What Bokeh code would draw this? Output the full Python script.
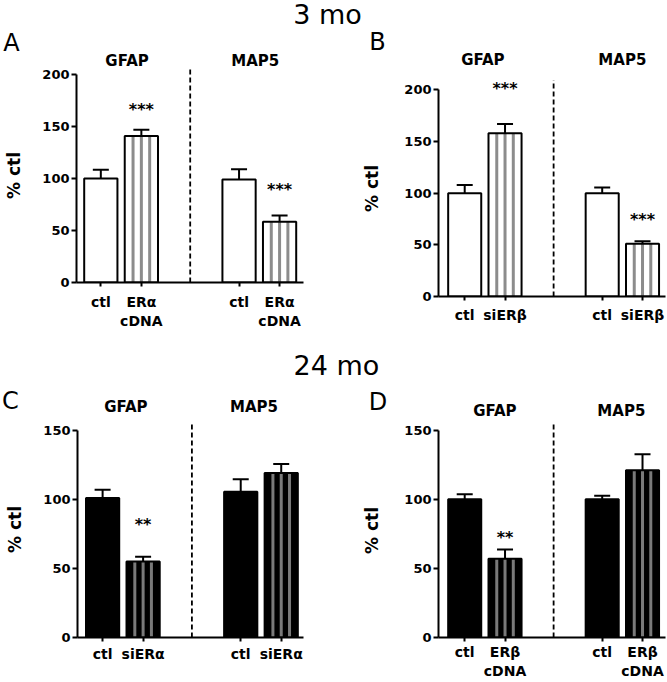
from bokeh.plotting import figure
from bokeh.layouts import column, row
from bokeh.models import FixedTicker, Whisker, TeeHead, ColumnDataSource, Range1d
from bokeh.embed import file_html
from bokeh.resources import INLINE
from bokeh.core.properties import value

# ---------------- data ----------------
groups = ["GFAP", "MAP5"]

a_labels = ["ctl", "ERα\ncDNA", "ctl", "ERα\ncDNA"]
a_means = [100, 141, 99, 58.5]
a_sem = [8.5, 6, 10, 6]
a_sig = ["***", "***"]
a_sig_y = [167, 90]

b_labels = ["ctl", "siERβ", "ctl", "siERβ"]
b_means = [100, 158, 100, 51]
b_sem = [8, 9, 5.5, 2.5]
b_sig = ["***", "***"]
b_sig_y = [202, 75.5]

c_labels = ["ctl", "siERα", "ctl", "siERα"]
c_means = [101, 55, 105.5, 119]
c_sem = [6, 3.5, 9, 6.5]
c_sig = ["**", ""]
c_sig_y = [82.5, 0]

d_labels = ["ctl", "ERβ\ncDNA", "ctl", "ERβ\ncDNA"]
d_means = [100, 57, 100, 121]
d_sem = [3.7, 6.7, 2.5, 11.5]
d_sig = ["**", ""]
d_sig_y = [72.8, 0]

yticks_3mo = [0, 50, 100, 150, 200]
yticks_24mo = [0, 50, 100, 150]

FONT = "DejaVu Sans"
GROUP_GAP = 3.41
BW = 0.82


def positions():
    return [round(g * GROUP_GAP + i, 2) for g in range(2) for i in range(2)]


def panel(labels, means, sem, sig, sig_y, yticks, fill, stripe,
          W, H, fl, fr, ft, fb, x0, x1, y1, div_top, standoff, lab_standoff):
    pos = positions()
    p = figure(width=W, height=H, x_range=Range1d(x0, x1), y_range=Range1d(0, y1),
               output_backend="svg", toolbar_location=None, title=None,
               min_border_left=fl, min_border_right=fr,
               min_border_top=ft, min_border_bottom=fb)
    p.outline_line_color = None
    p.grid.visible = False

    src = ColumnDataSource(dict(x=pos, top=means,
                                upper=[m + s for m, s in zip(means, sem)]))
    p.vbar(x="x", top="top", bottom=0, width=BW, fill_color=fill,
           line_color=None, source=src)
    sx, st = [], []
    for i in (1, 3):
        for k in (-1, 0, 1):
            sx.append(pos[i] + k * BW / 4)
            st.append(means[i])
    p.segment(x0=sx, y0=[0] * len(sx), x1=sx, y1=st, line_color=stripe,
              line_width=3)
    p.vbar(x="x", top="top", bottom=0, width=BW, fill_color=None,
           line_color="black", line_width=2, source=src)

    w = Whisker(source=src, base="x", lower="top", upper="upper",
                dimension="height", line_color="black", line_width=2,
                lower_head=None,
                upper_head=TeeHead(size=16, line_color="black", line_width=2))
    p.add_layout(w)

    div = (pos[1] + pos[2]) / 2
    p.segment(x0=[div], y0=[0], x1=[div], y1=[div_top], line_color="black",
              line_width=1.8, line_dash="5 3")

    sxs, sys, stx = [], [], []
    for j, i in enumerate((1, 3)):
        if sig[j]:
            sxs.append(pos[i]); sys.append(sig_y[j]); stx.append(sig[j])
    p.text(x=sxs, y=sys, text=stx, text_font=value(FONT), text_font_style="bold",
           text_font_size="16px", text_align="center", text_baseline="alphabetic",
           y_offset=1)

    xa = p.xaxis[0]
    xa.ticker = FixedTicker(ticks=pos)
    xa.major_label_overrides = {pos[i]: labels[i] for i in range(4)}
    xa.major_label_text_font = FONT
    xa.major_label_text_font_style = "bold"
    xa.major_label_text_font_size = "14px"
    xa.major_label_text_color = "black"
    xa.major_label_standoff = standoff
    xa.major_tick_out = 4
    xa.major_tick_in = 0
    xa.major_tick_line_width = 2
    xa.minor_tick_line_color = None
    xa.axis_line_width = 2

    ya = p.yaxis[0]
    ya.ticker = FixedTicker(ticks=yticks)
    ya.bounds = (0, yticks[-1])
    ya.major_label_text_font = FONT
    ya.major_label_text_font_style = "bold"
    ya.major_label_text_font_size = "13px"
    ya.major_label_text_color = "black"
    ya.major_label_standoff = 2
    ya.major_tick_out = 5
    ya.major_tick_in = 0
    ya.major_tick_line_width = 2
    ya.minor_tick_line_color = None
    ya.axis_line_width = 2
    ya.axis_label = "% ctl"
    ya.axis_label_text_font = FONT
    ya.axis_label_text_font_style = "bold"
    ya.axis_label_text_font_size = "17px"
    ya.axis_label_text_color = "black"
    ya.axis_label_standoff = lab_standoff
    return p


def group_px(g, offset, nudge):
    """page x of the group titles of a panel, through its own x scale"""
    pos = positions()
    ppu = (g["W"] - g["fl"] - g["fr"]) / (g["x1"] - g["x0"])
    cs = [(pos[0] + pos[1]) / 2, (pos[2] + pos[3]) / 2]
    return [offset + g["fl"] + (c - g["x0"]) * ppu + n for c, n in zip(cs, nudge)]


def header(h, big, letters, grp):
    t = figure(width=667, height=h, x_range=Range1d(0, 667), y_range=Range1d(h, 0),
               output_backend="svg", toolbar_location=None, title=None,
               x_axis_location=None, y_axis_location=None, min_border=0)
    t.outline_line_color = None
    t.grid.visible = False
    t.text(x=[big[1]], y=[big[2]], text=[big[0]], text_font=value(FONT),
           text_font_size="27px", text_align="center", text_baseline="middle")
    t.text(x=[l[1] for l in letters], y=[l[2] for l in letters],
           text=[l[0] for l in letters], text_font=value(FONT),
           text_font_size="24px", text_align="center", text_baseline="middle")
    gx, gy, gt = [], [], []
    for xs, y in grp:
        for x, name in zip(xs, groups):
            gx.append(x); gy.append(y); gt.append(name)
    t.text(x=gx, y=gy, text=gt, text_font=value(FONT), text_font_style="bold",
           text_font_size="15px", text_align="center", text_baseline="middle")
    return t


# panel geometry (pixels / axis ranges)
A = dict(W=333, H=271, fl=76, fr=30, ft=0, fb=57, x0=-0.6, x1=5.0, y1=205.8)
B = dict(W=334, H=271, fl=105, fr=2, ft=12, fb=43, x0=-0.65, x1=4.98, y1=209.0)
C = dict(W=333, H=261, fl=77, fr=30, ft=0, fb=45, x0=-0.62, x1=4.96, y1=156.3)
D = dict(W=334, H=261, fl=105, fr=2, ft=2, fb=45, x0=-0.65, x1=4.98, y1=154.8)

pA = panel(a_labels, a_means, a_sem, a_sig, a_sig_y, yticks_3mo, "white", "#8c8c8c",
           div_top=208.6, standoff=7, lab_standoff=15, **A)
pB = panel(b_labels, b_means, b_sem, b_sig, b_sig_y, yticks_3mo, "white", "#8c8c8c",
           div_top=211, standoff=6, lab_standoff=19, **B)
pC = panel(c_labels, c_means, c_sem, c_sig, c_sig_y, yticks_24mo, "black", "#7a7a7a",
           div_top=156, standoff=4, lab_standoff=15, **C)
pD = panel(d_labels, d_means, d_sem, d_sig, d_sig_y, yticks_24mo, "black", "#7a7a7a",
           div_top=155, standoff=2, lab_standoff=19, **D)

h1 = header(68, ("3 mo", 327, 14),
            [("A", 11, 42), ("B", 377, 41)],
            [(group_px(A, 0, (6, -4)), 60), (group_px(B, 333, (-2, 0)), 59)])
h2 = header(82, ("24 mo", 336, 26),
            [("C", 10, 61), ("D", 377.5, 62.5)],
            [(group_px(C, 0, (3, -7)), 67.7), (group_px(D, 333, (10, -1)), 71)])

# each panel sits in its own column so that its frame keeps its own borders
layout = column(h1, row(column(pA), column(pB)), h2, row(column(pC), column(pD)))
open("out.html", "w").write(file_html(layout, INLINE))
